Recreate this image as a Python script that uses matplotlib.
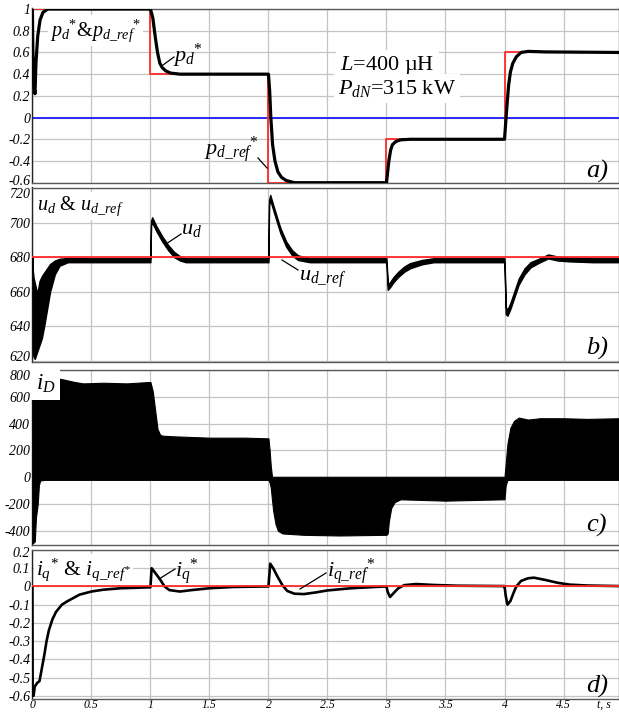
import matplotlib
matplotlib.use("Agg")
import matplotlib.pyplot as plt
import matplotlib.transforms as mtransforms
from matplotlib.mathtext import MathTextParser

# ---------------- data ----------------
t_end = 4.97
# panel a: reference step and p_d*
t_pref = [0, 1, 2, 3, 4, t_end]
p_ref = [1.0, 0.4, -0.6, -0.2, 0.6, 0.6]
t_pd = [0, 0.004, 0.012, 0.022, 0.03, 0.045, 0.065, 0.09, 0.13, 0.5, 0.99,
        1.0, 1.02, 1.04, 1.06, 1.08, 1.1, 1.13, 1.17, 1.25, 1.6, 1.99,
        2.0, 2.01, 2.02, 2.035, 2.055, 2.08, 2.11, 2.15, 2.22, 2.6, 2.99,
        3.0, 3.01, 3.02, 3.035, 3.05, 3.08, 3.12, 3.2, 3.6, 3.99,
        4.0, 4.01, 4.02, 4.035, 4.05, 4.07, 4.1, 4.14, 4.2, 4.35, t_end]
p_d = [1.0, 0.6, 0.3, 0.22, 0.5, 0.75, 0.9, 0.97, 1.0, 1.0, 1.0,
       1.0, 0.92, 0.75, 0.6, 0.5, 0.46, 0.43, 0.41, 0.4, 0.4, 0.4,
       0.4, 0.25, 0.0, -0.25, -0.4, -0.5, -0.55, -0.58, -0.6, -0.6, -0.6,
       -0.6, -0.5, -0.4, -0.3, -0.25, -0.22, -0.205, -0.2, -0.2, -0.2,
       -0.2, -0.05, 0.1, 0.3, 0.42, 0.5, 0.56, 0.6, 0.61, 0.605, 0.6]
p_zero = 0.0

# panel b: u_d band (upper / lower envelope) and reference
ud_ref = 680
t_ud = [0, 0.004, 0.01, 0.02, 0.03, 0.04, 0.05, 0.06, 0.08, 0.10, 0.12, 0.15, 0.19, 0.23, 0.3, 0.5, 0.7, 0.99,
        1.0, 1.005, 1.015, 1.05, 1.1, 1.15, 1.2, 1.25, 1.3, 1.6, 1.99,
        2.0, 2.005, 2.015, 2.05, 2.1, 2.15, 2.2, 2.25, 2.35, 2.7, 2.99,
        3.0, 3.01, 3.03, 3.06, 3.1, 3.15, 3.2, 3.3, 3.4, 3.7, 3.99,
        4.0, 4.01, 4.025, 4.05, 4.08, 4.12, 4.17, 4.22, 4.3, 4.37, 4.45, 4.55, 4.75, t_end]
ud_hi = [680, 672, 668, 665, 662, 659, 662, 666, 669, 671, 673, 676, 678, 679, 679.5, 679.3, 679.3, 679.3,
         679.5, 701, 703, 698, 692, 687, 683, 680.5, 679.3, 679.3, 679.3,
         679.5, 713, 716, 708, 697, 689, 684, 681, 679.3, 679.3, 679.3,
         679.3, 664, 665.5, 668.5, 671.5, 674.5, 676.5, 678.3, 679.3, 679.3, 679.3,
         679.3, 651, 649.5, 653.5, 659.5, 667.5, 673.5, 677, 679.3, 681.5, 680.3, 679.8, 679.3, 679.3]
ud_lo = [680, 625, 622, 621, 623, 625, 627, 629, 633, 640, 648, 660, 670, 675, 677, 677, 677, 677,
         677, 698.5, 700, 695, 689, 684, 680, 678, 677, 677, 677,
         677, 710.5, 713, 705, 694, 686, 681, 678.3, 677, 677, 677,
         677, 661, 662.5, 665.5, 668.5, 671.5, 673.5, 675.8, 677, 677, 677,
         677, 647, 646, 650, 656, 664, 670, 674, 677, 679.2, 678, 677.5, 677, 677]

# panel c: i_D switching band (upper / lower envelope)
t_iD = [0, 0.02, 0.03, 0.045, 0.055, 0.065, 0.1, 0.2, 0.26, 0.35, 0.43, 0.6, 0.8, 0.98,
        1.0, 1.02, 1.04, 1.06, 1.08, 1.1, 1.2, 1.5, 1.8, 1.99,
        2.0, 2.01, 2.02, 2.03, 2.04, 2.06, 2.08, 2.12, 2.3, 2.6, 2.99,
        3.0, 3.01, 3.02, 3.04, 3.07, 3.12, 3.5, 3.99,
        4.0, 4.01, 4.025, 4.05, 4.08, 4.12, 4.2, 4.3, 4.5, 4.7, t_end]
iD_hi = [800, 780, 770, 760, 760, 760, 755, 740, 730, 712, 700, 705, 700, 710,
         710, 640, 500, 360, 320, 310, 305, 295, 295, 290,
         290, 200, 80, 5, 3, 3, 3, 3, 3, 3, 3,
         3, 3, 3, 3, 3, 3, 3, 3,
         3, 100, 250, 370, 420, 445, 430, 440, 440, 435, 440]
iD_lo = [-495, -480, -300, -200, -60, -25, -20, -20, -20, -20, -20, -20, -20, -20,
         -20, -20, -20, -20, -20, -20, -20, -20, -20, -20,
         -20, -40, -80, -170, -250, -350, -400, -420, -430, -435, -430,
         -430, -420, -330, -230, -185, -165, -175, -165,
         -165, -60, -20, -20, -20, -20, -20, -20, -20, -20, -20]

# panel d: i_q* and reference
iq_ref = 0.0
t_iq = [0, 0.002, 0.01, 0.02, 0.04, 0.06, 0.08, 0.1, 0.12, 0.14, 0.17, 0.2, 0.25, 0.3, 0.4, 0.5, 0.6, 0.75, 0.99,
        1.0, 1.01, 1.04, 1.08, 1.12, 1.16, 1.25, 1.35, 1.5, 1.7, 1.99,
        2.0, 2.015, 2.04, 2.08, 2.12, 2.16, 2.22, 2.3, 2.4, 2.5, 2.7, 2.99,
        3.0, 3.01, 3.03, 3.07, 3.1, 3.15, 3.25, 3.4, 3.6, 3.99,
        4.0, 4.01, 4.025, 4.05, 4.08, 4.1, 4.14, 4.2, 4.25, 4.35, 4.45, 4.55, 4.7, t_end]
iq = [0.0, -0.6, -0.6, -0.55, -0.53, -0.52, -0.45, -0.38, -0.3, -0.24, -0.18, -0.14, -0.1, -0.08, -0.045, -0.028, -0.018, -0.01, -0.005,
      -0.005, 0.1, 0.075, 0.04, 0.0, -0.02, -0.028, -0.02, -0.01, -0.003, 0.0,
      0.0, 0.125, 0.1, 0.05, 0.005, -0.025, -0.04, -0.042, -0.033, -0.022, -0.01, 0.0,
      0.0, -0.03, -0.058, -0.03, -0.01, 0.007, 0.013, 0.008, 0.004, 0.002,
      0.002, -0.05, -0.1, -0.08, -0.03, 0.0, 0.03, 0.045, 0.048, 0.035, 0.02, 0.01, 0.005, 0.002]

# tick labels
x_ticks = [0, 0.5, 1, 1.5, 2, 2.5, 3, 3.5, 4, 4.5]
x_labels = ["0", "0.5", "1", "1.5", "2", "2.5", "3", "3.5", "4", "4.5"]
a_ticks = [1, 0.8, 0.6, 0.4, 0.2, 0, -0.2, -0.4, -0.6]
a_labels = ["1", "0.8", "0.6", "0.4", "0.2", "0", "-0.2", "-0.4", "-0.6"]
b_ticks = [720, 700, 680, 660, 640, 620]
b_labels = ["720", "700", "680", "660", "640", "620"]
c_ticks = [800, 600, 400, 200, 0, -200, -400]
c_labels = ["800", "600", "400", "200", "0", "-200", "-400"]
d_ticks = [0.2, 0.1, 0, -0.1, -0.2, -0.3, -0.4, -0.5, -0.6]
d_labels = ["0.2", "0.1", "0", "-0.1", "-0.2", "-0.3", "-0.4", "-0.5", "-0.6"]

# ---------------- style ----------------
plt.rcParams['font.family'] = ['Liberation Serif', 'DejaVu Serif']
plt.rcParams['mathtext.fontset'] = 'custom'
plt.rcParams['mathtext.rm'] = 'Liberation Serif'
plt.rcParams['mathtext.it'] = 'Liberation Serif:italic'
plt.rcParams['mathtext.bf'] = 'Liberation Serif:bold'

_parser = MathTextParser('path')


def pick(*cands):
    """Return the first label variant that mathtext can parse."""
    for c in cands:
        try:
            _parser.parse(c, dpi=100)
            return c
        except Exception:
            continue
    return cands[-1]


def sub(a, b):
    return pick(r"$x_{%s\_%s}$" % (a, b),
                r"$x_{%s\mathrm{\_}%s}$" % (a, b)).replace('$x_{', '').replace('}$', '')


W, H = 619, 713
fig = plt.figure(figsize=(W / 100, H / 100), dpi=100)


def add_ax(top, bottom, left=32.4, right=619):
    return fig.add_axes([left / W, 1 - bottom / H, (right - left) / W, (bottom - top) / H])


axa = add_ax(8.5, 182.7)
axb = add_ax(187.5, 362)
axc = add_ax(370, 545)
axd = add_ax(550, 699)

grid_c = '#c4c4c4'
spine_c = '#5a5a5a'
tick_font = dict(family='Liberation Serif', style='italic', size=10)


def style(ax, yt, yl, ylim):
    ax.set_xlim(0, t_end)
    ax.set_ylim(*ylim)
    ax.set_xticks(x_ticks)
    ax.set_yticks(yt)
    ax.set_yticklabels(yl, **tick_font)
    ax.tick_params(length=0, pad=1.5)
    ax.grid(True, color=grid_c, lw=0.9)
    ax.set_axisbelow(True)
    for s in ax.spines.values():
        s.set_color(spine_c)
        s.set_linewidth(1.0)
    ax.spines['left'].set_color('#222222')


style(axa, a_ticks, a_labels, (-0.6, 1.005))
style(axb, b_ticks, b_labels, (619.2, 720.3))
style(axc, c_ticks, c_labels, (-506, 800))
style(axd, d_ticks, d_labels, (-0.618, 0.2))
for ax in (axa, axb, axc):
    ax.set_xticklabels([])
axd.set_xticklabels(x_labels, family='Liberation Serif', style='italic', size=8.5)
axd.tick_params(axis='x', pad=0)


def shift_label(ax, idx, dy_px):
    lab = ax.get_yticklabels()[idx]
    off = mtransforms.ScaledTranslation(0, dy_px / 100.0, fig.dpi_scale_trans)
    lab.set_transform(lab.get_transform() + off)


shift_label(axa, -1, 2.5)
shift_label(axb, 0, -5)
shift_label(axb, -1, 5)
shift_label(axc, 0, -5)
shift_label(axd, 0, -2)

# panel a
axa.axhline(p_zero, color='#1a1aff', lw=1.3, zorder=2)
axa.plot(t_pref, p_ref, color='#ff2a2a', lw=1.3, drawstyle='steps-post', zorder=3)
axa.plot(t_pd, p_d, color='black', lw=2.3, zorder=4, solid_joinstyle='round')

# panel b
axb.fill_between(t_ud, ud_lo, ud_hi, color='black', lw=1.0, edgecolor='black', zorder=3)
axb.axhline(ud_ref, color='#ff2a2a', lw=1.3, zorder=4)

# panel c
axc.fill_between(t_iD, iD_lo, iD_hi, color='black', lw=0.8, edgecolor='black', zorder=3)

# panel d
axd.plot(t_iq, iq, color='black', lw=1.9, zorder=3)
axd.axhline(iq_ref, color='#ff2a2a', lw=1.3, zorder=4)

# ---------------- texts ----------------
def fx(x, y):
    return (x / W, 1 - y / H)


dref = sub('d', 'ref')
qref = sub('q', 'ref')
star = pick(r"$x{}^{*}$", r"$x^{*}$").replace('$x', '').replace('$', '')

lbl_a = pick(r"$p_d%s$&$p_{%s}%s$" % (star, dref, star), r"$p_d^{*}$&$p_{d}^{*}$")
lbl_b = pick(r"$u_d$ & $u_{%s}$" % dref, r"$u_d$ & $u_{d}$")
lbl_d = pick(r"$i_q%s$ & $i_{%s^{*}}$" % (star, qref), r"$i_q^{*}$ & $i_{q}^{*}$")
ann_pd = pick(r"$p_d%s$" % star, r"$p_d^{*}$")
ann_pref = pick(r"$p_{%s}%s$" % (dref, star), r"$p_{d}^{*}$")
ann_ud = r"$u_d$"
ann_uref = pick(r"$u_{%s}$" % dref, r"$u_{d}$")
ann_iq = pick(r"$i_q%s$" % star, r"$i_q^{*}$")
ann_iqref = pick(r"$i_{%s}%s$" % (qref, star), r"$i_{q}^{*}$")
lbl_L = pick(r"$L$=$\mathit{400}$ µH", r"$L$=400 µH")
lbl_P = pick(r"$P_{dN}$=$\mathit{315}$ kW", r"$P_{dN}$=315 kW")

wbox = dict(facecolor='white', edgecolor='none', pad=1.5)
fig.text(*fx(50, 36), lbl_a, fontsize=14.5, va='baseline', ha='left', bbox=wbox, zorder=10)
fig.text(*fx(37, 210), lbl_b, fontsize=14.5, va='baseline', ha='left', bbox=wbox, zorder=10)
fig.text(*fx(36, 390), r"$i_D$", fontsize=16.5, va='baseline', ha='left',
         bbox=dict(facecolor='white', edgecolor='none', pad=3.5), zorder=10)
fig.text(*fx(36, 575), lbl_d, fontsize=15.5, va='baseline', ha='left', bbox=wbox, zorder=10)

fig.text(*fx(340, 70), lbl_L, fontsize=16, va='baseline', ha='left',
         bbox=dict(facecolor='white', edgecolor='none', pad=3), zorder=10)
fig.text(*fx(338, 94), lbl_P, fontsize=16, va='baseline', ha='left',
         bbox=dict(facecolor='white', edgecolor='none', pad=3), zorder=10)

ann = 16
fig.text(*fx(173, 62), ann_pd, fontsize=ann, va='baseline', ha='left', zorder=10)
fig.text(*fx(204, 155), ann_pref, fontsize=ann, va='baseline', ha='left', zorder=10)
fig.text(*fx(181, 234), ann_ud, fontsize=ann, va='baseline', ha='left', zorder=10)
fig.text(*fx(299, 281), ann_uref, fontsize=ann, va='baseline', ha='left', zorder=10)
fig.text(*fx(175, 577), ann_iq, fontsize=ann, va='baseline', ha='left', zorder=10)
fig.text(*fx(327, 577), ann_iqref, fontsize=ann, va='baseline', ha='left', zorder=10)

for s, y in [("a)", 178), ("b)", 355), ("c)", 532), ("d)", 693)]:
    fig.text(*fx(586, y), s, fontsize=19, va='baseline', ha='left', style='italic', zorder=10)

fig.text(*fx(597, 699), "t, s", fontsize=8.5, style='italic', va='top', ha='left')

# leader lines (figure pixel coordinates)
leaders = [((163, 65), (174, 57)), ((258, 158), (267, 168)),
           ((166, 244), (181, 234)), ((282, 260), (298, 270)),
           ((159, 579), (175, 569)), ((300, 589), (326, 573))]
for (x0, y0), (x1, y1) in leaders:
    fig.add_artist(plt.Line2D([x0 / W, x1 / W], [1 - y0 / H, 1 - y1 / H],
                              color='black', lw=0.9, transform=fig.transFigure, zorder=10))

fig.savefig("out.png", dpi=100)
